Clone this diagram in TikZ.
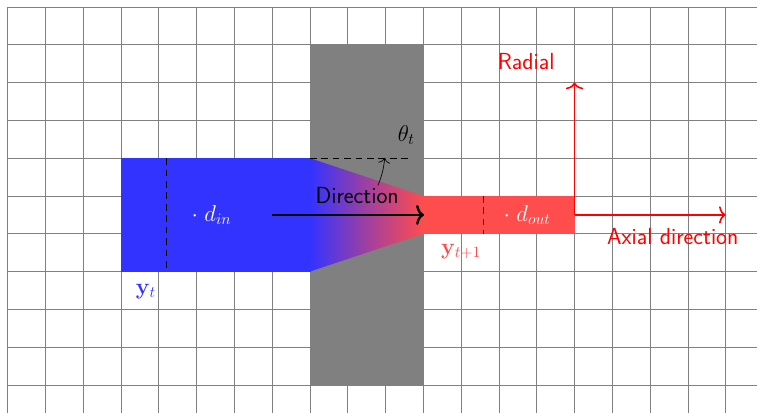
\documentclass[tikz,border=0pt]{standalone}
\usepackage{amsmath}
\usetikzlibrary{arrows.meta}
\begin{document}
\begin{tikzpicture}[
  gridline/.style={draw=gray,line width=0.5pt},
  dashline/.style={draw=black,line width=1pt,dash pattern=on 5pt off 3.6pt},
  axisarrow/.style={draw=red,line width=1.2pt,-{To[length=5pt,width=13pt]}},
  lab/.style={inner sep=0pt,font=\fontsize{17.5}{20}\selectfont\sffamily},
  mlab/.style={inner sep=0pt,font=\fontsize{17.5}{20}\selectfont}
]
\useasboundingbox (-0.198,-10.74) rectangle (19.934,0.185);
\draw[gridline] (0,-10.74) grid (19.84,0);
\fill[gray] (8,-10) rectangle (11,-1);
\shade[left color=blue!80,right color=red!70,shading angle=90,middle color=blue!50!red!75]
  (8,-4) -- (11,-5) -- (11,-6) -- (8,-7) -- cycle;
\fill[blue!80] (3,-4) rectangle (8.02,-7);
\fill[red!70] (11,-5) rectangle (15,-6);
\coordinate (dtlA) at (4.2,-4);
\coordinate (dtlB) at (4.2,-7);
\coordinate (dtrA) at (12.6,-5);
\coordinate (dtrB) at (12.6,-6);
\coordinate (hA) at (8,-4);
\coordinate (hB) at (10.65,-4);
\coordinate (dirA) at (7,-5.5);
\coordinate (dirB) at (11.02,-5.5);
\coordinate (ax) at (15,-5.5);
\coordinate (axR) at (19,-5.5);
\coordinate (axU) at (15,-2);
\draw[dashline] (dtlA) -- (dtlB);
\draw[dashline] (dtrA) -- (dtrB);
\draw[dashline] (hA) -- (hB);
\draw[line width=1.8pt,-{To[length=6pt,width=15pt]}] (dirA) -- (dirB);
\draw[axisarrow] (ax) -- (axR);
\draw[axisarrow] (ax) -- (axU);
\node[lab] (direction) at (9.25,-5) {Direction};
\node[mlab] (theta) at (10.55,-3.39) {$\theta_t$};
\coordinate (thetaTip) at (9.98,-3.99);
\coordinate (arcStart) at (9.8,-4.72);
\draw[line width=0.5pt,-{To[length=4pt,width=9pt]}] (arcStart) to[bend right=8] (thetaTip);
\node[mlab,text=white] (din) at (5.4,-5.5) {$\cdot\;d_{in}$};
\node[mlab,text=white] (dout) at (13.75,-5.5) {$\cdot\;d_{out}$};
\node[mlab,text=red!70] (ytt) at (12,-6.47) {$\mathbf{y}_{t+1}$};
\node[mlab,text=blue!80] (yt) at (3.66,-7.53) {$\mathbf{y}_{t}$};
\node[lab,text=red] (radial) at (13.72,-1.45) {Radial};
\node[lab,text=red] (axial) at (17.6,-6.08) {Axial direction};
\end{tikzpicture}
\end{document}
